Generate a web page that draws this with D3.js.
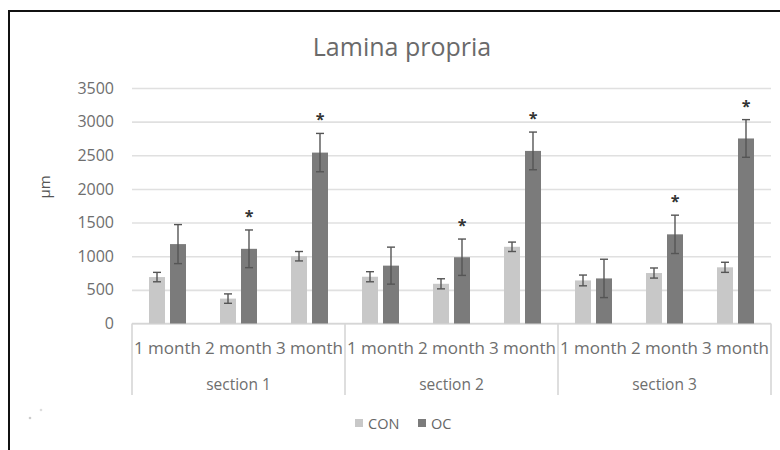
<!DOCTYPE html>
<html>
<head>
<meta charset="utf-8">
<script src="https://cdn.jsdelivr.net/npm/d3@7"></script>
<style>
  html, body { margin: 0; padding: 0; background: #fff; }
  svg { display: block; }
  text { font-family: "Open Sans", "Noto Sans", sans-serif; }
</style>
</head>
<body>
<svg id="chart" width="780" height="450"></svg>
<script>
// Lamina propria thickness (µm), grouped by section and time point
const sections = ["section 1", "section 2", "section 3"];
const months = ["1 month", "2 month", "3 month"];
const seriesNames = ["CON", "OC"];

const conValues = [690, 370, 1000, 695, 590, 1140, 640, 750, 835];
const conErrors = [70, 70, 70, 75, 75, 70, 80, 75, 75];
const ocValues = [1180, 1110, 2540, 860, 985, 2565, 670, 1325, 2750];
const ocErrors = [290, 280, 285, 275, 270, 280, 285, 285, 280];
// significance markers on OC bars
const ocSignificant = [false, true, true, false, true, true, false, true, true];

const yTicks = [0, 500, 1000, 1500, 2000, 2500, 3000, 3500];
const colors = { CON: "#c8c8c8", OC: "#7b7b7b" };

const svg = d3.select("#chart");

const plot = { left: 132, right: 771, top: 88, bottom: 323.5 };

const categories = [];
sections.forEach((s, si) => months.forEach((m, mi) => categories.push({ key: s + "|" + m, section: s, month: m, i: si * 3 + mi })));

const x0 = d3.scaleBand().domain(categories.map(d => d.key)).range([plot.left, plot.right]).padding(0);
const x1 = d3.scaleBand().domain(seriesNames).range([0, x0.bandwidth()]).paddingInner(0.238).paddingOuter(0.81);
const y = d3.scaleLinear().domain([0, 3500]).range([plot.bottom, plot.top]);

// outer frame
svg.append("line").attr("x1", 9).attr("x2", 780).attr("y1", 11).attr("y2", 11)
  .attr("stroke", "#111").attr("stroke-width", 2);
svg.append("line").attr("x1", 9).attr("x2", 9).attr("y1", 10).attr("y2", 450)
  .attr("stroke", "#111").attr("stroke-width", 2);

// faint specks in the lower-left corner
svg.append("circle").attr("cx", 30).attr("cy", 418).attr("r", 1.3).attr("fill", "#ccc");
svg.append("circle").attr("cx", 41).attr("cy", 410).attr("r", 1.3).attr("fill", "#ddd");

// title
svg.append("text").attr("x", 402).attr("y", 56).attr("text-anchor", "middle")
  .attr("font-size", 25).attr("fill", "#6a6a6a").text("Lamina propria");

// gridlines + y tick labels
const yAxis = d3.axisLeft(y).tickValues(yTicks).tickFormat(d3.format("d"))
  .tickSize(-(plot.right - plot.left)).tickPadding(18);
const gy = svg.append("g").attr("transform", `translate(${plot.left},0)`).call(yAxis);
gy.select(".domain").remove();
gy.selectAll(".tick line").attr("stroke", "#e0e0e0").attr("stroke-width", 1.6);
gy.selectAll(".tick text").attr("font-size", 16).attr("fill", "#6e6e6e")
  .attr("font-family", "'Open Sans', 'Noto Sans', sans-serif").attr("x", -18);

// y axis title
svg.append("text").attr("transform", "translate(50,187) rotate(-90)")
  .attr("text-anchor", "middle").attr("font-size", 15).attr("fill", "#555").text("µm");

// baseline
svg.append("line").attr("x1", plot.left).attr("x2", plot.right)
  .attr("y1", y(0)).attr("y2", y(0)).attr("stroke", "#d6d6d6").attr("stroke-width", 1.6);

// multi-level category axis: section separators
const sepX = [plot.left].concat(sections.map((s, si) => x0(categories[si * 3 + 2].key) + x0.bandwidth()));
svg.selectAll(".sep").data(sepX).join("line").attr("class", "sep")
  .attr("x1", d => d).attr("x2", d => d).attr("y1", y(0)).attr("y2", 395)
  .attr("stroke", "#d6d6d6").attr("stroke-width", 1.6);

svg.selectAll(".mlabel").data(categories).join("text").attr("class", "mlabel")
  .attr("x", d => x0(d.key) + x0.bandwidth() / 2).attr("y", 354)
  .attr("text-anchor", "middle").attr("font-size", 17).attr("fill", "#6e6e6e").text(d => d.month);

svg.selectAll(".slabel").data(sections).join("text").attr("class", "slabel")
  .attr("x", (d, si) => x0(categories[si * 3].key) + 1.5 * x0.bandwidth()).attr("y", 390)
  .attr("text-anchor", "middle").attr("font-size", 15.5).attr("fill", "#6e6e6e").text(d => d);

// bars
const barData = [];
categories.forEach(c => {
  barData.push({ cat: c.key, series: "CON", value: conValues[c.i], err: conErrors[c.i], sig: false });
  barData.push({ cat: c.key, series: "OC", value: ocValues[c.i], err: ocErrors[c.i], sig: ocSignificant[c.i] });
});

svg.selectAll(".bar").data(barData).join("rect").attr("class", "bar")
  .attr("x", d => x0(d.cat) + x1(d.series)).attr("width", x1.bandwidth())
  .attr("y", d => y(d.value)).attr("height", d => y(0) - y(d.value))
  .attr("fill", d => colors[d.series]);

// error bars
const cx = d => x0(d.cat) + x1(d.series) + x1.bandwidth() / 2;
const eb = svg.selectAll(".err").data(barData).join("g").attr("class", "err")
  .attr("stroke", "#555").attr("stroke-width", 1.4);
eb.append("line").attr("x1", cx).attr("x2", cx)
  .attr("y1", d => y(d.value + d.err)).attr("y2", d => y(d.value - d.err));
eb.append("line").attr("x1", d => cx(d) - 4).attr("x2", d => cx(d) + 4)
  .attr("y1", d => y(d.value + d.err)).attr("y2", d => y(d.value + d.err));
eb.append("line").attr("x1", d => cx(d) - 4).attr("x2", d => cx(d) + 4)
  .attr("y1", d => y(d.value - d.err)).attr("y2", d => y(d.value - d.err));

// significance asterisks
svg.selectAll(".star").data(barData.filter(d => d.sig)).join("text").attr("class", "star")
  .attr("x", cx).attr("y", d => y(d.value + d.err) - 8)
  .attr("text-anchor", "middle").attr("font-size", 16).attr("font-weight", "bold")
  .attr("fill", "#333").text("*");

// legend
const legend = svg.append("g").attr("transform", "translate(355,423)");
const li = legend.selectAll("g").data(seriesNames).join("g")
  .attr("transform", (d, i) => `translate(${i * 63},0)`);
li.append("rect").attr("x", 0).attr("y", -4).attr("width", 8).attr("height", 8)
  .attr("fill", d => colors[d]);
li.append("text").attr("x", 13).attr("y", 5.5).attr("font-size", 14.5).attr("fill", "#666").text(d => d);
</script>
</body>
</html>
